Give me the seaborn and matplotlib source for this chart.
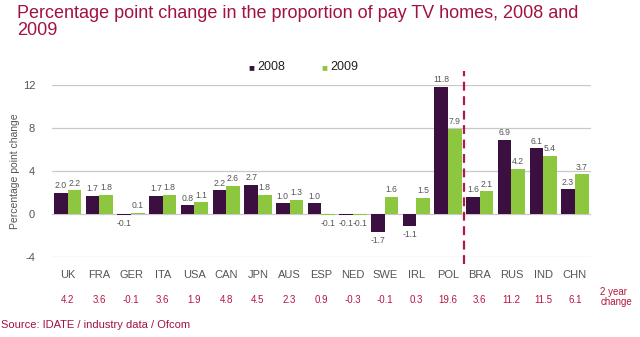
import matplotlib
matplotlib.use("Agg")
import matplotlib.pyplot as plt
import seaborn as sns
import pandas as pd
import numpy as np

countries = ["UK", "FRA", "GER", "ITA", "USA", "CAN", "JPN", "AUS", "ESP",
             "NED", "SWE", "IRL", "POL", "BRA", "RUS", "IND", "CHN"]
vals_2008 = [2.0, 1.7, -0.1, 1.7, 0.8, 2.2, 2.7, 1.0, 1.0, -0.1, -1.7, -1.1, 11.8, 1.6, 6.9, 6.1, 2.3]
vals_2009 = [2.2, 1.8, 0.1, 1.8, 1.1, 2.6, 1.8, 1.3, -0.1, -0.1, 1.6, 1.5, 7.9, 2.1, 4.2, 5.4, 3.7]
two_year = ["4.2", "3.6", "-0.1", "3.6", "1.9", "4.8", "4.5", "2.3", "0.9", "-0.3", "-0.1",
            "0.3", "19.6", "3.6", "11.2", "11.5", "6.1"]
years = ["2008", "2009"]
yticks = [-4, 0, 4, 8, 12]

df = pd.DataFrame({
    "country": countries * 2,
    "year": [years[0]] * len(countries) + [years[1]] * len(countries),
    "value": vals_2008 + vals_2009,
})

sns.set_theme(style="white")
plt.rcParams["font.family"] = ["Liberation Sans", "DejaVu Sans"]

purple = "#3b0f40"
green = "#8dc63f"
red = "#b5173f"
grey_text = "#555555"

fig = plt.figure(figsize=(6.4, 3.37), dpi=100)
ax = fig.add_axes([0.081, 0.237, 0.842, 0.511])

sns.barplot(data=df, x="country", y="value", hue="year", order=countries,
            hue_order=years, palette=[purple, green], width=0.86, ax=ax,
            legend=False, saturation=1, linewidth=0)

ax.set_ylim(-4, 12)
ax.set_xlim(-0.5, len(countries) - 0.5)
ax.set_yticks(yticks)
ax.set_yticklabels([str(t) for t in yticks], fontsize=8, color=grey_text)
ax.yaxis.grid(True, color="#c8c8c8", linewidth=0.9)
ax.set_axisbelow(True)
for s in ax.spines.values():
    s.set_visible(False)
ax.tick_params(axis="both", length=0)
ax.tick_params(axis="y", pad=12)
ax.set_xticks(range(len(countries)))
ax.set_xticklabels(countries, fontsize=8, color=grey_text)
ax.tick_params(axis="x", pad=9)
ax.set_xlabel("")
ax.set_ylabel("Percentage point change", fontsize=7.5, color=grey_text)
ax.yaxis.set_label_coords(-0.059, 0.5)

# value labels
for cont in ax.containers:
    labels = [f"{v:.1f}" for v in cont.datavalues]
    for bar, lab, v in zip(cont, labels, cont.datavalues):
        x = bar.get_x() + bar.get_width() / 2
        if v >= 0:
            ax.text(x, v + 0.25, lab, ha="center", va="bottom", fontsize=6.2, color=grey_text, clip_on=False)
        else:
            ax.text(x, v - 0.35, lab, ha="center", va="top", fontsize=6.2, color=grey_text, clip_on=False)

# two-year change row
trans = ax.get_xaxis_transform()
for i, t in enumerate(two_year):
    ax.text(i, -0.25, t, transform=trans, ha="center", va="center", fontsize=7, color=red)
fig.text(0.938, 0.118, "2 year\nchange", ha="left", va="center", fontsize=7, color=red, linespacing=1.0)

# dashed divider
ax.plot([12.5, 12.5], [-0.04, 1.08], transform=trans, color=red, linestyle=(0, (4, 2.5)),
        linewidth=1.6, clip_on=False)

# legend
fig.text(0.388, 0.800, "\u25a0", color=purple, fontsize=7, ha="left", va="center")
fig.text(0.402, 0.800, "2008", color="#222222", fontsize=9, ha="left", va="center")
fig.text(0.502, 0.800, "\u25a0", color=green, fontsize=7, ha="left", va="center")
fig.text(0.516, 0.800, "2009", color="#222222", fontsize=9, ha="left", va="center")

fig.text(0.026, 0.985, "Percentage point change in the proportion of pay TV homes, 2008 and\n2009",
         ha="left", va="top", fontsize=13, color="#a3123e", linespacing=1.0)
fig.text(0.002, 0.035, "Source: IDATE / industry data / Ofcom", ha="left", va="center",
         fontsize=8, color="#a3123e")

fig.savefig("out.png", dpi=100)
